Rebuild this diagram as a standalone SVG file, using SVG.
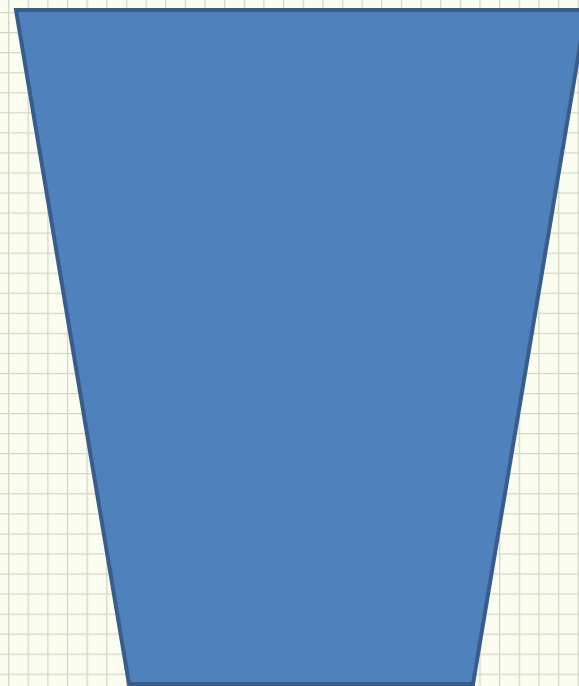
<svg xmlns="http://www.w3.org/2000/svg" width="579" height="686" viewBox="0 0 579 686">
<defs>
<pattern id="grid" x="8" y="12" width="19.64" height="20.05" patternUnits="userSpaceOnUse">
<rect width="19.64" height="20.05" fill="#fbfdf0"/>
<path d="M0 0V20.05M0 0H19.64" stroke="#d2d7c1" stroke-width="2.5" fill="none"/>
</pattern>
</defs>
<rect x="0" y="0" width="579" height="686" fill="url(#grid)"/>
<g id="trapezoid">
<polygon points="16,10 586,10 473,684 129,684" fill="#4f81bd" stroke="#385d8a" stroke-width="4" stroke-linejoin="miter"/>
</g>
</svg>
